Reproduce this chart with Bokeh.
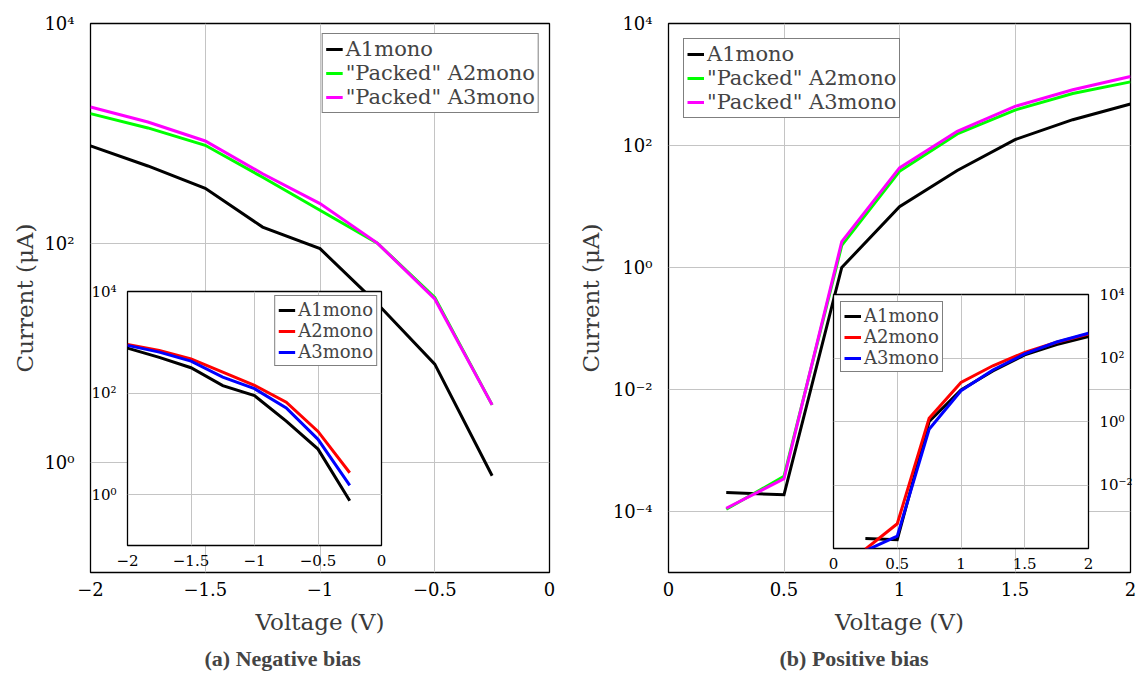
from bokeh.plotting import figure
from bokeh.models import (Range1d, FixedTicker, CustomJSTickFormatter, Legend,
                          LegendItem, Title, Row)
from bokeh.embed import file_html
from bokeh.resources import INLINE

# ---- negative bias sweep (V, current in uA) ----
v_neg = [-2.0, -1.75, -1.5, -1.25, -1.0, -0.75, -0.5, -0.25]
i_neg_a1 = [767, 504, 316, 140, 89, 28, 7.9, 0.76]
i_neg_packed_a2 = [1510, 1119, 778, 398, 199, 100, 32, 3.36]
i_neg_packed_a3 = [1738, 1268, 851, 428, 229, 100, 31, 3.36]
i_neg_a2 = [906, 690, 473, 259, 142, 66, 17.6, 2.7]
i_neg_a3 = [871, 641, 427, 207, 122, 51, 12.3, 1.53]

# ---- positive bias sweep ----
v_pos = [0.25, 0.5, 0.75, 1.0, 1.25, 1.5, 1.75, 2.0]
i_pos_a1 = [2.05e-4, 1.88e-4, 1.0, 9.9, 39, 125, 265, 478]
i_pos_packed_a2 = [1.09e-4, 3.76e-4, 2.3, 37.7, 155, 381, 713, 1104]
i_pos_packed_a3 = [1.13e-4, 3.44e-4, 2.65, 43, 171, 438, 818, 1349]
i_pos_a2 = [9.5e-5, 6.0e-4, 1.27, 17, 57, 151, 312, 572]
i_pos_a3 = [8.5e-5, 2.45e-4, 0.57, 9.3, 42, 134, 318, 600]

neg_ticks = [-2, -1.5, -1, -0.5, 0]
pos_ticks = [0, 0.5, 1, 1.5, 2]
main_neg_decades = [1, 1e2, 1e4]
main_pos_decades = [1e-4, 1e-2, 1, 1e2, 1e4]
inset_pos_decades = [1e-2, 1, 1e2, 1e4]

SERIF = "DejaVu Serif"
GRID = "#c4c4c4"

pow_fmt = CustomJSTickFormatter(code="""
const e = Math.round(Math.log10(tick));
const sup = {"-": "\\u207b", "0": "\\u2070", "1": "\\u00b9", "2": "\\u00b2", "3": "\\u00b3",
             "4": "\\u2074", "5": "\\u2075", "6": "\\u2076", "7": "\\u2077", "8": "\\u2078", "9": "\\u2079"};
return "10" + String(e).split("").map(c => sup[c]).join("");
""")
num_fmt = CustomJSTickFormatter(code="""
return tick < 0 ? "\\u2212" + Math.abs(tick) : String(tick);
""")


def style_axes(p, xticks, yticks, tick_size, xstand, ystand):
    p.xaxis.ticker = FixedTicker(ticks=xticks)
    p.yaxis.ticker = FixedTicker(ticks=yticks)
    p.xaxis.formatter = num_fmt
    p.yaxis.formatter = pow_fmt
    for ax in p.xaxis + p.yaxis:
        ax.axis_line_color = None
        ax.major_tick_line_color = None
        ax.minor_tick_line_color = None
        ax.major_label_text_font = SERIF
        ax.major_label_text_font_size = tick_size
        ax.major_label_text_color = "black"
    for ax in p.xaxis:
        ax.major_label_standoff = xstand
    for ax in p.yaxis:
        ax.major_label_standoff = ystand
    p.xgrid.grid_line_color = GRID
    p.ygrid.grid_line_color = GRID
    p.xgrid.grid_line_width = 1
    p.ygrid.grid_line_width = 1
    p.outline_line_color = "black"
    p.outline_line_width = 1.3
    p.outline_line_alpha = 1


def add_legend(p, renderers, labels, loc, size, glyph_h, margin):
    items = [LegendItem(label=l, renderers=[r]) for l, r in zip(labels, renderers)]
    lg = Legend(items=items, location=loc, label_text_font=SERIF,
                label_text_font_size=size, glyph_width=17, glyph_height=glyph_h,
                label_height=glyph_h, label_standoff=3, spacing=0, padding=3,
                margin=margin, border_line_color="black", border_line_width=1,
                background_fill_alpha=1)
    p.add_layout(lg)


# Plots sharing one row get their top/bottom borders equalised by the layout,
# so main panels and insets use the same top and bottom borders.
FIG_H = 677
TOP = 23
BOTTOM = 105   # frame height = 677 - 23 - 105 = 549


def main_panel(xr, yr, left_border, right_border, frame_w, xticks, yticks,
               caption, cap_offset, ylab_standoff):
    p = figure(title=None, x_range=Range1d(*xr), y_range=Range1d(*yr), y_axis_type="log",
               width=left_border + frame_w + right_border, height=FIG_H,
               min_border_left=left_border, min_border_right=right_border,
               min_border_top=TOP, min_border_bottom=BOTTOM,
               output_backend="svg", toolbar_location=None)
    style_axes(p, xticks, yticks, "18px", 3, 10)
    p.xaxis.axis_label = "Voltage (V)"
    p.yaxis.axis_label = "Current (\u03bcA)"
    for ax in p.xaxis + p.yaxis:
        ax.axis_label_text_font = SERIF
        ax.axis_label_text_font_size = "23px"
        ax.axis_label_text_font_style = "normal"
        ax.axis_label_text_color = "#3a3a3a"
    p.xaxis.axis_label_standoff = 10
    p.yaxis.axis_label_standoff = ylab_standoff
    cap = Title(text=caption, align="left", offset=cap_offset, text_font="Liberation Serif",
                text_font_size="22px", text_font_style="bold", standoff=12)
    p.add_layout(cap, "below")
    return p


def inset_panel(xr, yr, yloc, frame_w, xticks, yticks, frame_left, frame_top, lb, rb):
    p = figure(title=None, x_range=Range1d(*xr), y_range=Range1d(*yr),
               y_axis_type="log", y_axis_location=yloc, frame_width=frame_w,
               frame_height=254, min_border_left=lb, min_border_right=rb,
               min_border_top=TOP, min_border_bottom=BOTTOM,
               border_fill_color=None, background_fill_color="white",
               output_backend="svg", toolbar_location=None,
               styles={"position": "absolute", "left": f"{frame_left - lb}px",
                       "top": f"{frame_top - TOP}px"})
    style_axes(p, xticks, yticks, "15px", 3, 5)
    return p


# ---------------- (a) negative bias ----------------
left = main_panel((-2, 0), (1e-1, 1e4), 90, 11, 459, neg_ticks, main_neg_decades,
                  "(a) Negative bias", 114, 3)
r1 = left.line(v_neg, i_neg_a1, line_color="black", line_width=3, line_join="miter")
r2 = left.line(v_neg, i_neg_packed_a2, line_color="#00ff00", line_width=3, line_join="miter")
r3 = left.line(v_neg, i_neg_packed_a3, line_color="#ff00ff", line_width=3, line_join="miter")
add_legend(left, [r1, r2, r3], ["A1mono", '"Packed" A2mono', '"Packed" A3mono'],
           "top_right", "21px", 24, 10)

inset_l = inset_panel((-2, 0), (1e-1, 1e4), "left", 254, neg_ticks, main_neg_decades,
                      127, 291, 45, 14)
q1 = inset_l.line(v_neg, i_neg_a1, line_color="black", line_width=3, line_join="miter")
q2 = inset_l.line(v_neg, i_neg_a2, line_color="#ff0000", line_width=3, line_join="miter")
q3 = inset_l.line(v_neg, i_neg_a3, line_color="#0000ff", line_width=3, line_join="miter")
add_legend(inset_l, [q1, q2, q3], ["A1mono", "A2mono", "A3mono"], "top_right", "18px", 20, 4)

# ---------------- (b) positive bias ----------------
right = main_panel((0, 2), (1e-5, 1e4), 108, 7, 462, pos_ticks, main_pos_decades,
                   "(b) Positive bias", 111, 6)
s1 = right.line(v_pos, i_pos_a1, line_color="black", line_width=3, line_join="miter")
s2 = right.line(v_pos, i_pos_packed_a2, line_color="#00ff00", line_width=3, line_join="miter")
s3 = right.line(v_pos, i_pos_packed_a3, line_color="#ff00ff", line_width=3, line_join="miter")
add_legend(right, [s1, s2, s3], ["A1mono", '"Packed" A2mono', '"Packed" A3mono'],
           "top_left", "21px", 24, 15)

inset_r = inset_panel((0, 2), (1e-4, 1e4), "right", 255, pos_ticks, inset_pos_decades,
                      833, 294, 14, 50)
t1 = inset_r.line(v_pos, i_pos_a1, line_color="black", line_width=3, line_join="miter")
t2 = inset_r.line(v_pos, i_pos_a2, line_color="#ff0000", line_width=3, line_join="miter")
t3 = inset_r.line(v_pos, i_pos_a3, line_color="#0000ff", line_width=3, line_join="miter")
add_legend(inset_r, [t1, t2, t3], ["A1mono", "A2mono", "A3mono"], "top_left", "18px", 20, 7)

p = Row(children=[left, right, inset_l, inset_r], spacing=0)

open("out.html", "w").write(file_html(p, INLINE))
